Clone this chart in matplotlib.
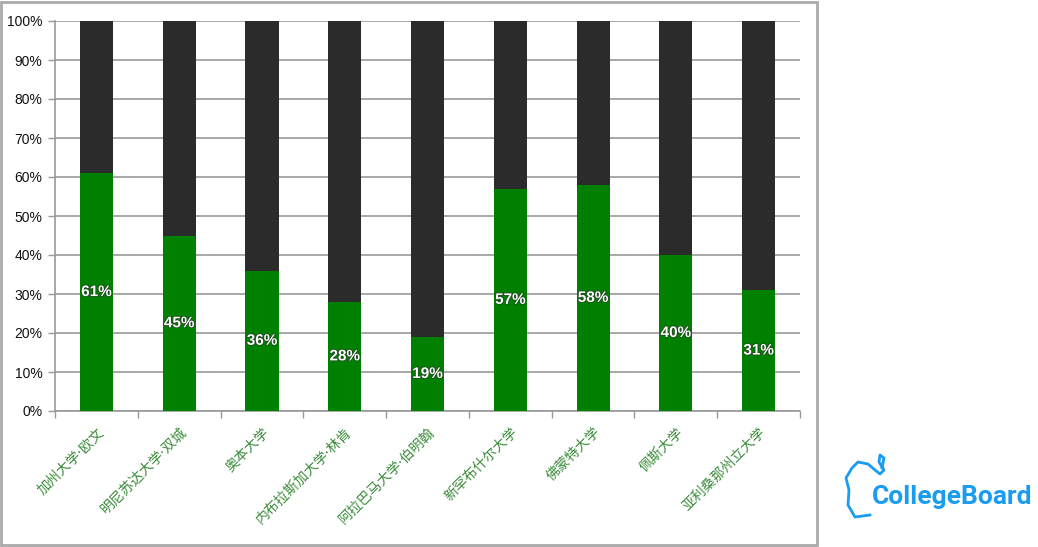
import matplotlib
matplotlib.use("Agg")
import matplotlib.pyplot as plt
from matplotlib.patches import Rectangle
import matplotlib.patheffects as pe
import numpy as np

categories = ["加州大学·欧文", "明尼苏达大学·双城", "奥本大学", "内布拉斯加大学·林肯",
              "阿拉巴马大学·伯明翰", "新罕布什尔大学", "佛蒙特大学", "佩斯大学", "亚利桑那州立大学"]
green_values = [61, 45, 36, 28, 19, 57, 58, 40, 31]
yticks = [0, 10, 20, 30, 40, 50, 60, 70, 80, 90, 100]

plt.rcParams['font.family'] = ['DejaVu Sans', 'Noto Sans CJK SC']

fig = plt.figure(figsize=(10.38, 5.47), dpi=100)
ax = fig.add_axes([55/1038, 1-411/547, 745/1038, 390/547])

x = np.arange(len(categories))
g = np.array(green_values)
rest = 100 - g
ax.bar(x, g, width=0.4, color="#008000", zorder=3)
ax.bar(x, rest, width=0.4, bottom=g, color="#2b2b2b", zorder=3)

for xi, v in zip(x, g):
    ax.text(xi, v/2, f"{v}%", ha="center", va="center", color="white",
            fontsize=11, fontweight="bold",
            family=["Liberation Sans", "DejaVu Sans"], zorder=4,
            path_effects=[pe.withStroke(linewidth=1.2, foreground="#1f4a1f")])

ax.set_xlim(-0.5, len(categories)-0.5)
ax.set_ylim(0, 100)
ax.set_yticks(yticks)
ax.set_yticklabels([f"{t}%" for t in yticks], fontsize=10, color="#111111",
                   family=["Liberation Sans", "DejaVu Sans"])
ax.yaxis.grid(True, color="#999999", linewidth=1.2, zorder=0)
ax.set_axisbelow(True)

ax.set_xticks(x)
ax.set_xticklabels(categories, rotation=45, ha="right", rotation_mode="anchor",
                   fontsize=10, color="#3c8c3c")
ax.tick_params(axis="x", length=0, pad=10)
ax.set_xticks(np.arange(-0.5, len(categories)), minor=True)
ax.tick_params(axis="x", which="minor", length=5, color="#999999", width=1)
ax.tick_params(axis="y", length=5, color="#999999", width=1, pad=4)

for s in ["top", "right"]:
    ax.spines[s].set_visible(False)
for s in ["left", "bottom"]:
    ax.spines[s].set_color("#999999")
    ax.spines[s].set_linewidth(1.2)

# outer frame
fig.patches.append(Rectangle((1/1038, 2/547), 816/1038, 543/547, transform=fig.transFigure,
                             fill=False, edgecolor="#aaaaaa", linewidth=2))

# CollegeBoard logo
fig.text(872/1038, 1-497/547, "CollegeBoard", color="#1a9cf0", fontsize=19,
         fontweight="bold", family=["Roboto", "DejaVu Sans"], va="center", ha="left")
verts = [(870, 515), (855, 517), (848, 505), (849, 490), (846, 478), (852, 468),
         (858, 462), (868, 464), (875, 470), (880, 474), (884, 470), (879, 462),
         (880, 455), (884, 458), (882, 468)]
vx = [v[0]/1038 for v in verts]
vy = [1 - v[1]/547 for v in verts]
fig.lines.append(plt.Line2D(vx, vy, transform=fig.transFigure, color="#1a9cf0", linewidth=2))

fig.savefig("out.png", dpi=100)
